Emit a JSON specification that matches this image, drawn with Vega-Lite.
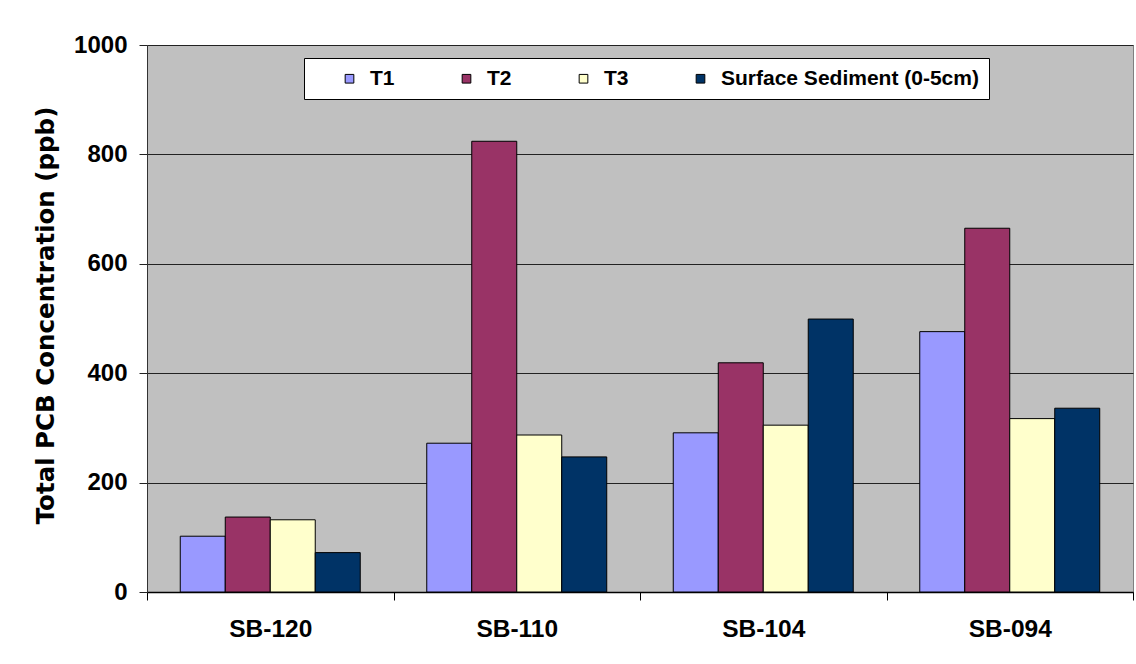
{
  "$schema": "https://vega.github.io/schema/vega-lite/v6.json",
  "autosize": "none",
  "width": 986,
  "height": 547,
  "padding": {"left": 147, "top": 45, "right": 3, "bottom": 72},
  "background": "white",
  "data": {
    "values": [
      {"site": "SB-120", "series": "T1", "value": 102},
      {"site": "SB-120", "series": "T2", "value": 137},
      {"site": "SB-120", "series": "T3", "value": 132},
      {"site": "SB-120", "series": "Surface Sediment (0-5cm)", "value": 72},
      {"site": "SB-110", "series": "T1", "value": 272},
      {"site": "SB-110", "series": "T2", "value": 824},
      {"site": "SB-110", "series": "T3", "value": 287},
      {"site": "SB-110", "series": "Surface Sediment (0-5cm)", "value": 247},
      {"site": "SB-104", "series": "T1", "value": 291},
      {"site": "SB-104", "series": "T2", "value": 419},
      {"site": "SB-104", "series": "T3", "value": 305},
      {"site": "SB-104", "series": "Surface Sediment (0-5cm)", "value": 499},
      {"site": "SB-094", "series": "T1", "value": 476},
      {"site": "SB-094", "series": "T2", "value": 665},
      {"site": "SB-094", "series": "T3", "value": 317},
      {"site": "SB-094", "series": "Surface Sediment (0-5cm)", "value": 336}
    ]
  },
  "mark": {"type": "bar", "stroke": "black", "strokeWidth": 1},
  "encoding": {
    "x": {
      "field": "site",
      "type": "nominal",
      "sort": ["SB-120", "SB-110", "SB-104", "SB-094"],
      "scale": {"paddingInner": 0, "paddingOuter": 0},
      "axis": {
        "title": null,
        "labelAngle": 0,
        "labelFont": "Liberation Sans",
        "labelFontWeight": "bold",
        "labelFontSize": 24.5,
        "labelColor": "black",
        "labelPadding": 17,
        "tickBand": "extent",
        "tickSize": 8,
        "tickColor": "black",
        "domainColor": "black",
        "domainWidth": 1.5
      }
    },
    "xOffset": {
      "field": "series",
      "type": "nominal",
      "sort": ["T1", "T2", "T3", "Surface Sediment (0-5cm)"],
      "scale": {"paddingInner": 0, "paddingOuter": 0.739}
    },
    "y": {
      "field": "value",
      "type": "quantitative",
      "scale": {"domain": [0, 1000], "nice": false},
      "axis": {
        "title": "Total PCB Concentration (ppb)",
        "titleFont": "DejaVu Sans",
        "titleFontWeight": "bold",
        "titleFontSize": 24.5,
        "titleColor": "black",
        "titleX": -101,
        "titleY": 270,
        "titleAlign": "center",
        "titleBaseline": "middle",
        "titleAngle": -90,
        "values": [0, 200, 400, 600, 800, 1000],
        "format": "d",
        "labelFont": "Liberation Sans",
        "labelFontWeight": "bold",
        "labelFontSize": 24,
        "labelColor": "black",
        "labelPadding": 12,
        "tickSize": 8,
        "tickColor": "#222",
        "domainColor": "#333",
        "grid": true,
        "gridColor": "#222",
        "gridWidth": 1
      }
    },
    "color": {
      "field": "series",
      "type": "nominal",
      "sort": ["T1", "T2", "T3", "Surface Sediment (0-5cm)"],
      "scale": {
        "domain": ["T1", "T2", "T3", "Surface Sediment (0-5cm)"],
        "range": ["#9999FF", "#993366", "#FFFFCC", "#003366"]
      },
      "legend": {
        "title": null,
        "orient": "none",
        "legendX": 157,
        "legendY": 13,
        "direction": "horizontal",
        "columns": 4,
        "columnPadding": 36,
        "fillColor": "white",
        "strokeColor": "black",
        "padding": 10,
        "symbolOffset": 25,
        "symbolType": "square",
        "symbolSize": 75,
        "symbolStrokeColor": "black",
        "symbolStrokeWidth": 1,
        "labelFont": "Liberation Sans",
        "labelFontWeight": "bold",
        "labelFontSize": 21,
        "labelColor": "black",
        "labelOffset": 10,
        "labelLimit": 400
      }
    }
  },
  "config": {
    "view": {"fill": "#C0C0C0", "stroke": "#808080", "strokeWidth": 1}
  }
}
